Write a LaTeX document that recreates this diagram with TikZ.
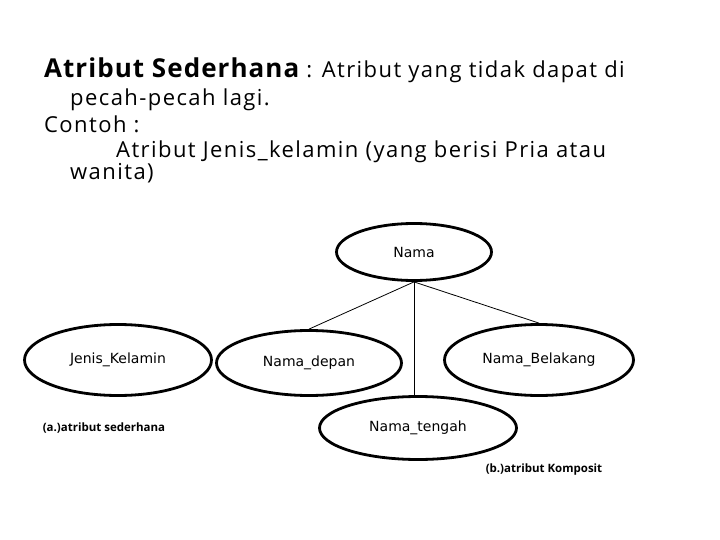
\documentclass[tikz,border=0pt]{standalone}
\usepackage{fontspec}
\setmainfont{Open Sans}
\newfontfamily\diagfont{DejaVu Sans}
\usetikzlibrary{shapes.geometric}

\begin{document}
\begin{tikzpicture}[x=1pt, y=-1pt,
    attr/.style={draw, ellipse, line width=2.8pt, inner sep=0pt,
      font=\diagfont\fontsize{14}{16}\selectfont},
    conn/.style={line width=0.8pt},
    txt/.style={anchor=base west, inner sep=0pt,
      font=\fontsize{22}{26}\selectfont\addfontfeature{LetterSpace=6.5}},
    capt/.style={inner sep=0pt, font=\bfseries\fontsize{11.5}{13}\selectfont}]
  \useasboundingbox (0, 0) rectangle (720, 540);
  \node[txt] (baris1) at (44, 78)
    {{\bfseries\fontsize{26}{30}\selectfont\addfontfeature{LetterSpace=4}Atribut Sederhana} : Atribut yang tidak dapat di};
  \node[txt] (baris2) at (70, 106) {pecah-pecah lagi.};
  \node[txt] (baris3) at (44, 133) {Contoh :};
  \node[txt] (baris4) at (116, 158) {Atribut Jenis\_kelamin (yang berisi Pria atau};
  \node[txt] (baris5) at (70, 180) {wanita)};

  \node[attr, minimum width=155, minimum height=57] (nama) at (414, 252) {Nama};
  \node[attr, minimum width=187, minimum height=71] (jenis) at (118, 360) {Jenis\_Kelamin};
  \node[attr, minimum width=185, minimum height=65] (depan) at (309, 363) {Nama\_depan};
  \node[attr, minimum width=189, minimum height=71] (belakang) at (539, 360) {Nama\_Belakang};
  \node[attr, minimum width=197, minimum height=63] (tengah) at (418, 428) {Nama\_tengah};
  \draw[conn] (nama.south) -- (depan.north);
  \draw[conn] (nama.south) -- (nama.south |- tengah.north);
  \draw[conn] (nama.south) -- (belakang.north);

  \node[capt] (ketA) at (104, 428) {(a.)atribut sederhana};
  \node[capt] (ketB) at (544, 470) {(b.)atribut Komposit};
\end{tikzpicture}
\end{document}
